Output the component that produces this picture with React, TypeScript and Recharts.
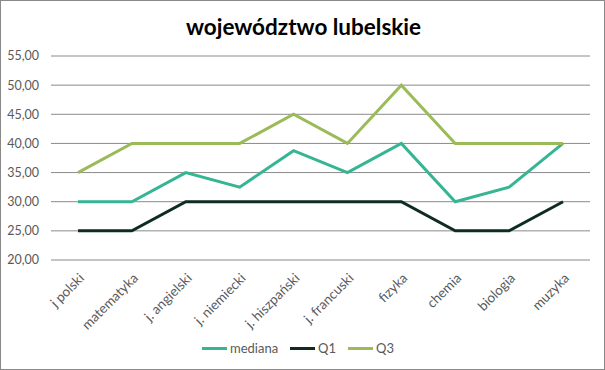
import { LineChart, Line, XAxis, YAxis, CartesianGrid, Legend } from 'recharts';

const SUBJECTS = [
  'j polski', 'matematyka', 'j. angielski', 'j. niemiecki', 'j. hiszpański',
  'j. francuski', 'fizyka', 'chemia', 'biologia', 'muzyka',
];
const MEDIANA = [30, 30, 35, 32.5, 38.75, 35, 40, 30, 32.5, 40];
const Q1 = [25, 25, 30, 30, 30, 30, 30, 25, 25, 30];
const Q3 = [35, 40, 40, 40, 45, 40, 50, 40, 40, 40];
const Y_TICKS = [20, 25, 30, 35, 40, 45, 50, 55];

const SERIES = [
  { key: 'mediana', color: '#35b594' },
  { key: 'Q1', color: '#0e2c22' },
  { key: 'Q3', color: '#9bbb59' },
];

const data = SUBJECTS.map((s, i) => ({
  subject: s,
  mediana: MEDIANA[i],
  Q1: Q1[i],
  Q3: Q3[i],
}));

const FONT = 'Lato, "Open Sans", sans-serif';
const GREY_TEXT = '#595959';

function SubjectTick({ x, y, payload }: any) {
  const ax = x + 7;
  const ay = y + 11;
  return (
    <text
      x={ax}
      y={ay}
      transform={`rotate(-45 ${ax} ${ay})`}
      textAnchor="end"
      fill={GREY_TEXT}
      fontSize={13.5}
      fontFamily={FONT}
    >
      {payload.value}
    </text>
  );
}

function LegendBox() {
  return (
    <div style={{ display: 'flex', justifyContent: 'center', height: 16, alignItems: 'center' }}>
      {SERIES.map((s) => (
        <div key={s.key} style={{ display: 'flex', alignItems: 'center', margin: '0 6px' }}>
          <span style={{ display: 'inline-block', width: 25, height: 3, background: s.color, marginRight: 3 }} />
          <span style={{ fontSize: 13, color: GREY_TEXT, fontFamily: FONT }}>{s.key}</span>
        </div>
      ))}
    </div>
  );
}

export default function App() {
  return (
    <div
      style={{
        position: 'absolute', left: 0, top: 0, width: 605, height: 370,
        border: '1px solid #898989', boxSizing: 'border-box', background: '#fff',
      }}
    >
      <div
        style={{
          position: 'absolute', top: 15, left: 0, width: 605, textAlign: 'center',
          fontFamily: FONT, fontWeight: 700, fontSize: 22.5, lineHeight: 1, color: '#000',
        }}
      >
        województwo lubelskie
      </div>
      <LineChart
        width={605}
        height={370}
        data={data}
        margin={{ top: 56, right: 15, left: 6, bottom: 14 }}
        style={{ position: 'absolute', left: -1, top: -1 }}
      >
        <CartesianGrid vertical={false} stroke="#8a8a8a" />
        <XAxis
          dataKey="subject"
          interval={0}
          axisLine={false}
          tickLine={false}
          height={80}
          padding={{ left: 27, right: 27 }}
          tick={<SubjectTick />}
        />
        <YAxis
          domain={[20, 55]}
          ticks={Y_TICKS}
          width={45}
          axisLine={false}
          tickLine={false}
          tickMargin={6}
          tick={{ fill: GREY_TEXT, fontSize: 12.5, fontFamily: FONT }}
          tickFormatter={(v: number) => v.toFixed(2).replace('.', ',')}
        />
        {SERIES.map((s) => (
          <Line
            key={s.key}
            type="linear"
            dataKey={s.key}
            stroke={s.color}
            strokeWidth={3}
            dot={false}
            activeDot={false}
            isAnimationActive={false}
          />
        ))}
        <Legend verticalAlign="bottom" content={<LegendBox />} />
      </LineChart>
    </div>
  );
}
